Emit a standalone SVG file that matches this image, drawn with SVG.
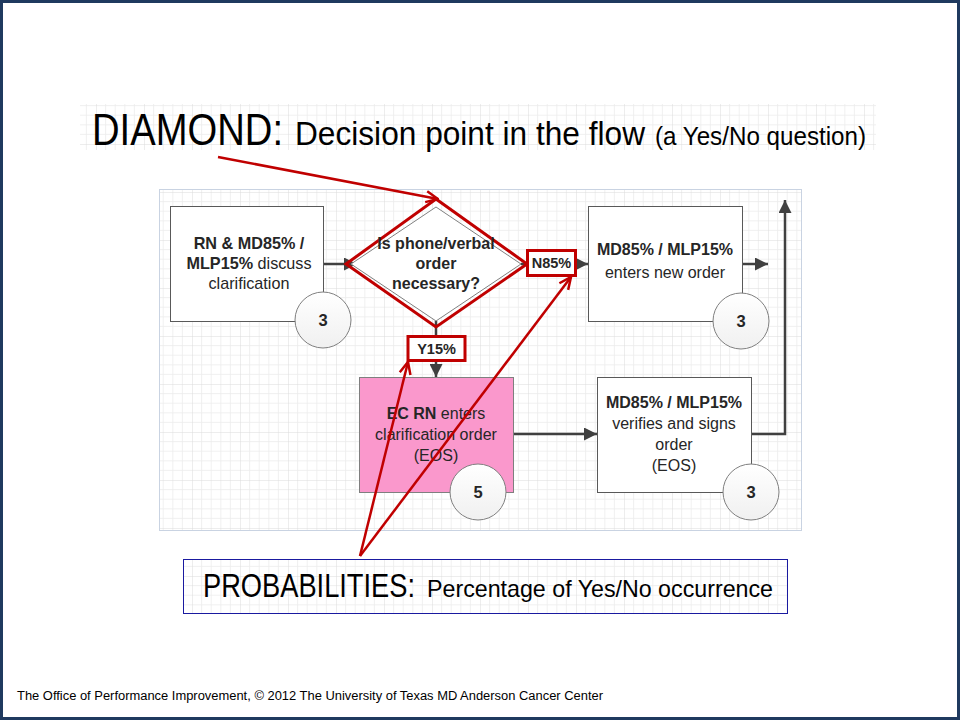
<svg xmlns="http://www.w3.org/2000/svg" width="960" height="720" viewBox="0 0 960 720">
<style>
.t{font-family:"Liberation Sans",Arial,sans-serif;fill:#262626}
.b{font-weight:bold}
.node{fill:#fff;stroke:#595959;stroke-width:1}
.circ{fill:url(#cg);stroke:#7f7f7f;stroke-width:1}
.con{fill:none;stroke:#404040;stroke-width:2.5}
.red{fill:none;stroke:#c00000;stroke-width:3}
.redl{fill:none;stroke:#c00000;stroke-width:2.5}
</style>
<defs>
<pattern id="grid" x="0" y="0" width="48" height="48" patternUnits="userSpaceOnUse">
<rect width="48" height="48" fill="#fff"/>
<path d="M9.6,0V48M19.2,0V48M28.8,0V48M38.4,0V48M0,9.6H48M0,19.2H48M0,28.8H48M0,38.4H48" stroke="#ececec" stroke-width="0.8"/>
<path d="M0,0V48M0,0H48" stroke="#dcdcdc" stroke-width="1"/>
</pattern>
<linearGradient id="cg" x1="0" y1="0" x2="0" y2="1">
<stop offset="0" stop-color="#ffffff"/>
<stop offset="1" stop-color="#f0f0f0"/>
</linearGradient>
<marker id="ga" viewBox="0 0 12 12" refX="12" refY="6" markerWidth="13" markerHeight="13" markerUnits="userSpaceOnUse" orient="auto">
<path d="M0,0 L12,6 L0,12 z" fill="#404040"/>
</marker>
<marker id="ra" viewBox="0 0 14 14" refX="13" refY="7" markerWidth="14" markerHeight="14" markerUnits="userSpaceOnUse" orient="auto">
<path d="M1,1.5 L13,7 L1,12.5" fill="none" stroke="#c00000" stroke-width="2.5"/>
</marker>
</defs>

<rect x="0" y="0" width="960" height="720" fill="#fff"/>
<rect x="1.5" y="1.5" width="957" height="717" fill="none" stroke="#1f3a5f" stroke-width="3"/>

<g id="title">
<rect x="80" y="104" width="796" height="46" fill="url(#grid)"/>
<text class="t" x="92" y="145" font-size="45" textLength="191" lengthAdjust="spacingAndGlyphs" style="fill:#000">DIAMOND:</text>
<text class="t" x="295" y="145" font-size="33" textLength="350" lengthAdjust="spacingAndGlyphs" style="fill:#000">Decision point in the flow</text>
<text class="t" x="655" y="145" font-size="25" textLength="211" lengthAdjust="spacingAndGlyphs" style="fill:#000">(a  Yes/No question)</text>
</g>

<g id="panel">
<rect x="159.5" y="189.5" width="642" height="341" fill="url(#grid)" stroke="#c9d3e2" stroke-width="1"/>
</g>

<g id="connectors">
<path class="con" d="M323,264 L357,264" marker-end="url(#ga)"/>
<path class="con" d="M521,264 L527,264"/>
<path class="con" d="M575,264 L588,264" marker-end="url(#ga)"/>
<path class="con" d="M742,264 L768,264" marker-end="url(#ga)"/>
<path class="con" d="M436,321 L436,336"/>
<path class="con" d="M436,361 L436,377" marker-end="url(#ga)"/>
<path class="con" d="M513,434 L597,434" marker-end="url(#ga)"/>
<path class="con" d="M752,434 L785,434 L785,200" marker-end="url(#ga)"/>
</g>

<g id="n1">
<rect class="node" x="170.5" y="206.5" width="153" height="115"/>
<text class="t b" x="249" y="249" font-size="16.2" text-anchor="middle">RN &amp; MD85% /</text>
<text class="t" x="249" y="269" font-size="16.2" text-anchor="middle"><tspan class="b">MLP15%</tspan> discuss</text>
<text class="t" x="249" y="289" font-size="16.2" text-anchor="middle">clarification</text>
<circle class="circ" cx="323" cy="320" r="28"/>
<text class="t b" x="323" y="326" font-size="16.5" text-anchor="middle">3</text>
</g>

<g id="decision">
<path d="M436,207 L521,264 L436,321 L351,264 Z" fill="#fff" stroke="#808080" stroke-width="1"/>
<path class="red" d="M436,199 L527,264 L436,327 L346,264 Z"/>
<text class="t b" x="436" y="249" font-size="16" text-anchor="middle">Is phone/verbal</text>
<text class="t b" x="436" y="269" font-size="16" text-anchor="middle">order</text>
<text class="t b" x="436" y="289" font-size="16" text-anchor="middle">necessary?</text>
</g>

<g id="n85">
<rect x="527.5" y="250.5" width="48" height="25" fill="#fff" stroke="#c00000" stroke-width="3"/>
<text class="t b" x="551.5" y="268" font-size="14.5" text-anchor="middle">N85%</text>
</g>

<g id="y15">
<rect x="408" y="336.5" width="57" height="24" fill="#fff" stroke="#c00000" stroke-width="3"/>
<text class="t b" x="436.5" y="354" font-size="14.5" text-anchor="middle">Y15%</text>
</g>

<g id="n2">
<rect class="node" x="588.5" y="206.5" width="154" height="115"/>
<text class="t b" x="665" y="255" font-size="16" text-anchor="middle">MD85% / MLP15%</text>
<text class="t" x="665" y="278" font-size="16" text-anchor="middle">enters new order</text>
<circle class="circ" cx="741" cy="321" r="28"/>
<text class="t b" x="741" y="327" font-size="16.5" text-anchor="middle">3</text>
</g>

<g id="n3">
<rect x="359.5" y="377.5" width="154" height="115" fill="#fa98cc" stroke="#7f7f7f" stroke-width="1"/>
<text class="t" x="436" y="419" font-size="16" text-anchor="middle"><tspan class="b">EC RN</tspan> enters</text>
<text class="t" x="436" y="440" font-size="16" text-anchor="middle">clarification order</text>
<text class="t" x="436" y="461" font-size="16" text-anchor="middle">(EOS)</text>
<circle class="circ" cx="478" cy="492" r="28"/>
<text class="t b" x="478" y="498" font-size="16.5" text-anchor="middle">5</text>
</g>

<g id="n4">
<rect class="node" x="597.5" y="377.5" width="154" height="115"/>
<text class="t b" x="674" y="408" font-size="16" text-anchor="middle">MD85% / MLP15%</text>
<text class="t" x="674" y="429" font-size="16" text-anchor="middle">verifies and signs</text>
<text class="t" x="674" y="450" font-size="16" text-anchor="middle">order</text>
<text class="t" x="674" y="471" font-size="16" text-anchor="middle">(EOS)</text>
<circle class="circ" cx="751" cy="492" r="28"/>
<text class="t b" x="751" y="498" font-size="16.5" text-anchor="middle">3</text>
</g>

<g id="annotations">
<path class="redl" d="M218,157 L438,199" marker-end="url(#ra)"/>
<path class="redl" d="M360,556 L408,362" marker-end="url(#ra)"/>
<path class="redl" d="M360,556 L571,277" marker-end="url(#ra)"/>
</g>

<g id="probabilities">
<rect x="183.5" y="559.5" width="604" height="54" fill="url(#grid)" stroke="#1a1aa0" stroke-width="1"/>
<text class="t" x="203" y="597" font-size="33" textLength="212" lengthAdjust="spacingAndGlyphs" style="fill:#000">PROBABILITIES:</text>
<text class="t" x="427" y="597" font-size="24" textLength="346" lengthAdjust="spacingAndGlyphs" style="fill:#000">Percentage of Yes/No occurrence</text>
</g>

<g id="footer">
<text class="t" x="17" y="700" font-size="12.5" textLength="586" lengthAdjust="spacingAndGlyphs" style="fill:#000">The Office of Performance Improvement, © 2012 The University of Texas MD Anderson Cancer Center</text>
</g>
</svg>
